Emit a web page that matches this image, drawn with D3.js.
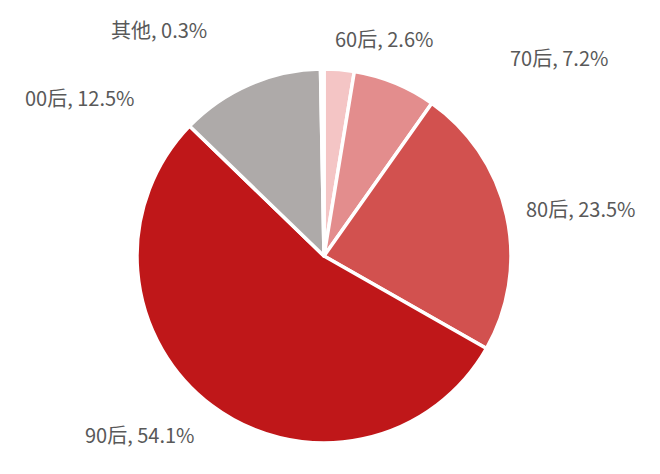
<!DOCTYPE html>
<html>
<head>
<meta charset="utf-8">
<script src="https://cdn.jsdelivr.net/npm/d3@7"></script>
<style>
  html, body { margin: 0; padding: 0; background: #fff; }
  svg { display: block; }
</style>
</head>
<body>
<svg id="chart" width="660" height="474"></svg>
<script>
// Data
const categories = ["60后", "70后", "80后", "90后", "00后", "其他"];
const values = [2.6, 7.2, 23.5, 54.1, 12.5, 0.3];
const valueLabels = ["2.6%", "7.2%", "23.5%", "54.1%", "12.5%", "0.3%"];

// Styles / layout (kept separate from data)
const colors = ["#f4c5c5", "#e38d8d", "#d2514f", "#bf1719", "#aeaaa9", "#ffffff"];
const labelPos = [[335, 47], [510, 66], [526, 217], [85, 443], [25, 106], [111, 38]];

const svg = d3.select("#chart");
const cx = 324, cy = 256, r = 187;

const pie = d3.pie().sort(null).value(d => d.v);
const arc = d3.arc().innerRadius(0).outerRadius(r);

const data = categories.map((c, i) => ({ c, v: values[i], i }));

const g = svg.append("g").attr("transform", `translate(${cx},${cy})`);
g.selectAll("path")
  .data(pie(data))
  .join("path")
  .attr("d", arc)
  .attr("fill", d => colors[d.data.i])
  .attr("stroke", "#ffffff")
  .attr("stroke-width", 3.5)
  .attr("stroke-linejoin", "round");

svg.selectAll("text.lbl")
  .data(data)
  .join("text")
  .attr("class", "lbl")
  .attr("x", d => labelPos[d.i][0])
  .attr("y", d => labelPos[d.i][1])
  .attr("fill", "#595959")
  .attr("font-family", "'Noto Sans CJK SC', 'Noto Sans', sans-serif")
  .attr("font-size", 20)
  .text(d => `${d.c}, ${valueLabels[d.i]}`);
</script>
</body>
</html>
